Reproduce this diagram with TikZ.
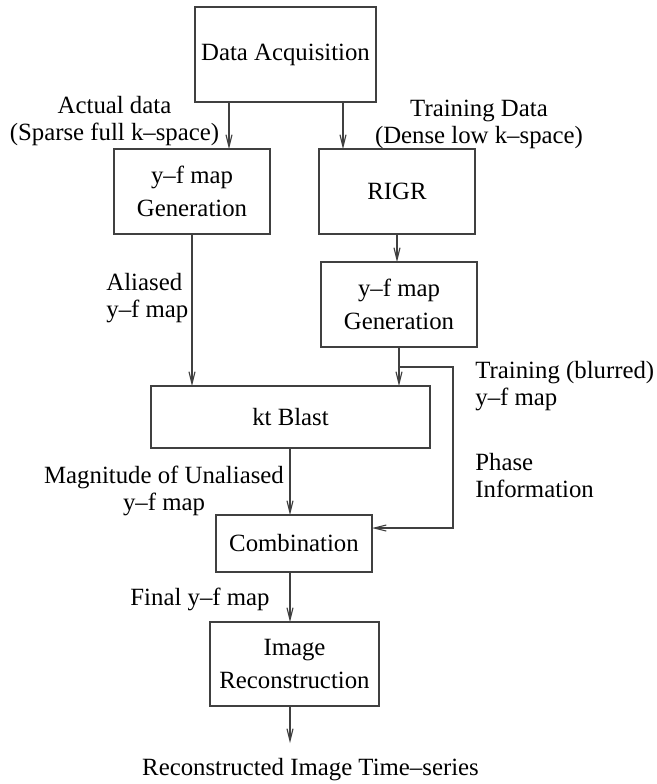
\documentclass[tikz,border=0pt]{standalone}
\usepackage{fontspec}
\setmainfont{Liberation Serif}
\usetikzlibrary{arrows.meta,calc}

\begin{document}
\begin{tikzpicture}[x=.5pt,y=-.5pt,
  blk/.style={draw=black!75,line width=.55pt,inner sep=0pt,outer sep=0pt,
    align=center,font=\fontsize{12.4}{16.5}\selectfont},
  lbl/.style={inner sep=0pt,font=\fontsize{12.4}{13.5}\selectfont},
  conn/.style={->,draw=black!75,line width=.55pt},
  >={Straight Barb[length=6pt,width=3pt]}]
\useasboundingbox (0,0) rectangle (657,784);
% boxes
\node[blk,minimum width=90.5pt,minimum height=47.5pt] (acq) at (285.5,54.5) {Data Acquisition};
\node[blk,minimum width=78pt,minimum height=42.5pt] (gen) at (192,191.5) {y--f map\\Generation};
\node[blk,minimum width=78pt,minimum height=42.5pt] (rigr) at (397,191.5) {RIGR};
\node[blk,minimum width=78pt,minimum height=42.5pt] (gen2) at (399,304.5) {y--f map\\Generation};
\node[blk,minimum width=139.5pt,minimum height=31pt] (kt) at (290.5,417) {kt Blast};
\node[blk,minimum width=78pt,minimum height=28.5pt] (comb) at (294,543.5) {Combination};
\node[blk,minimum width=84.5pt,minimum height=42pt] (recon) at (294.5,664) {Image\\Reconstruction};
% labels
\node[lbl,align=center] (actual) at (114.5,121.5) {Actual data\\(Sparse full k--space)};
\node[lbl,align=center] (train) at (479,124) {Training Data\\(Dense low k--space)};
\node[lbl,align=left,anchor=west] (alias) at (106,298.5) {Aliased\\y--f map};
\node[lbl,align=left,anchor=west] (blur) at (475,386) {Training (blurred)\\ y--f map};
\node[lbl,align=left,anchor=west] (phase) at (475,476) {Phase\\Information};
\node[lbl,align=center] (mag) at (164,491) {Magnitude of Unaliased\\y--f map};
\node[lbl,anchor=base] (final) at (200,605) {Final y--f map};
\node[lbl,anchor=base] (out) at (310.5,775) {Reconstructed Image Time--series};
% helper points
\coordinate (xa) at (229,0);
\coordinate (xb) at (343,0);
\coordinate (xm) at (290,0);
\coordinate (tap) at ($(gen2.south)+(0,20)$);
\coordinate (turn) at (453,528);
\coordinate (tip) at (290,743);
% connectors
\draw[conn] (acq.south -| xa) -- (gen.north -| xa);
\draw[conn] (acq.south -| xb) -- (rigr.north -| xb);
\draw[conn] (gen.south) -- (gen.south |- kt.north);
\draw[conn] (rigr.south) -- (rigr.south |- gen2.north);
\draw[conn] (gen2.south) -- (gen2.south |- kt.north);
\draw[conn] (tap) -| (turn) -- (comb.east |- turn);
\draw[conn] (kt.south -| xm) -- (comb.north -| xm);
\draw[conn] (comb.south -| xm) -- (recon.north -| xm);
\draw[conn] (recon.south -| xm) -- (tip);
\end{tikzpicture}
\end{document}
